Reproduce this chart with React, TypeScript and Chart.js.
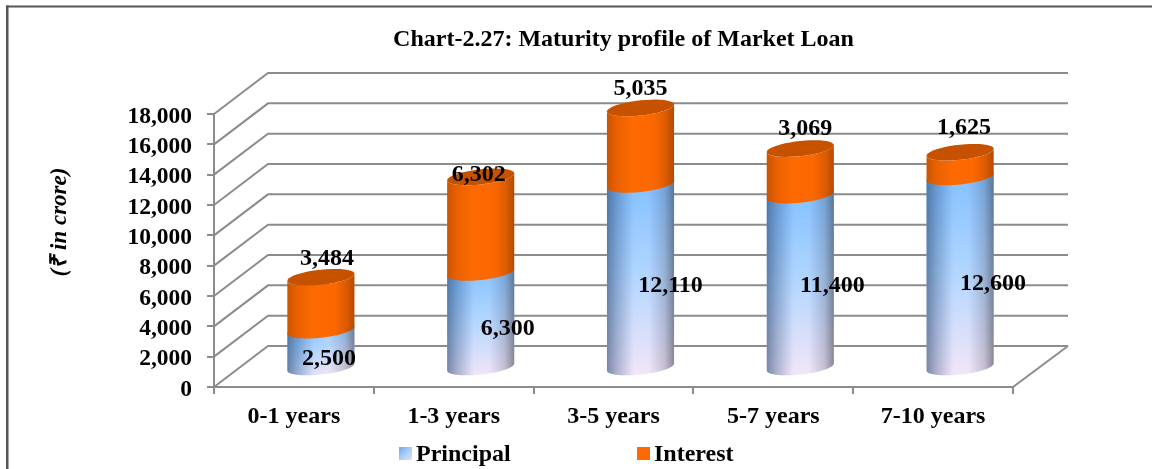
import React, { useEffect, useRef } from "react";
import { Chart, registerables } from "chart.js";

Chart.register(...registerables);

const categories = ["0-1 years", "1-3 years", "3-5 years", "5-7 years", "7-10 years"];
const principal = [2500, 6300, 12110, 11400, 12600];
const interest = [3484, 6302, 5035, 3069, 1625];
const seriesNames = ["Principal", "Interest"];
const yTicksMax = 18000;
const yStep = 2000;
const chartTitle = "Chart-2.27: Maturity profile of Market Loan";
const yTitle = "(₹ in crore)";

// layout only: hand-placed label nudges from the mark they belong to
const principalNudge = [[8, 10], [27, 9], [30, 10], [32, 5], [33, 12]];
const interestNudge = [[6, -18], [-2, -2], [0, -19], [5, -20], [4, -24]];

const SERIF = "'Liberation Serif', 'Times New Roman', serif";
const GRID = "#8c8c8c";
const DEPTH_X = 54;
const DEPTH_Y = 41;
const SHEAR = 3.5;
const RY = 7.6;

function ellipsePoint(cx: number, cy: number, rx: number, t: number) {
  return [cx + rx * Math.cos(t), cy + RY * Math.sin(t) - SHEAR * Math.cos(t)];
}

function arcTo(ctx: any, cx: number, cy: number, rx: number, from: number, to: number, start: boolean) {
  for (let i = 0; i <= 40; i++) {
    const [px, py] = ellipsePoint(cx, cy, rx, from + ((to - from) * i) / 40);
    if (start && i === 0) ctx.moveTo(px, py);
    else ctx.lineTo(px, py);
  }
}

function sidePath(ctx: any, cx: number, yTop: number, yBottom: number, rx: number) {
  ctx.beginPath();
  arcTo(ctx, cx, yBottom, rx, 0, Math.PI, true);
  arcTo(ctx, cx, yTop, rx, Math.PI, 2 * Math.PI, false);
  ctx.closePath();
}

function frontPath(ctx: any, cx: number, yTop: number, yBottom: number, rx: number) {
  ctx.beginPath();
  arcTo(ctx, cx, yBottom, rx, 0, Math.PI, true);
  arcTo(ctx, cx, yTop, rx, Math.PI, 0, false);
  ctx.closePath();
}

function drawPrincipal(ctx: any, cx: number, yTop: number, yBottom: number, rx: number) {
  sidePath(ctx, cx, yTop, yBottom, rx);
  ctx.save();
  ctx.clip();
  const g = ctx.createLinearGradient(cx - 12, yTop - 8, cx + 12, yBottom + 8);
  g.addColorStop(0, "#7fbfff");
  g.addColorStop(0.5, "#b2d6ff");
  g.addColorStop(1, "#f3e6f8");
  ctx.fillStyle = g;
  ctx.fillRect(cx - rx - 1, yTop - 12, rx * 2 + 2, yBottom - yTop + 24);
  const s = ctx.createLinearGradient(cx - rx, 0, cx + rx, 0);
  s.addColorStop(0, "rgba(30,60,100,0.55)");
  s.addColorStop(0.14, "rgba(30,60,110,0.32)");
  s.addColorStop(0.4, "rgba(40,70,120,0)");
  s.addColorStop(0.62, "rgba(60,60,90,0)");
  s.addColorStop(0.86, "rgba(50,50,70,0.22)");
  s.addColorStop(1, "rgba(40,40,50,0.5)");
  ctx.fillStyle = s;
  ctx.fillRect(cx - rx - 1, yTop - 12, rx * 2 + 2, yBottom - yTop + 24);
  ctx.restore();
}

function drawInterest(ctx: any, cx: number, yTop: number, yBottom: number, rx: number) {
  frontPath(ctx, cx, yTop, yBottom, rx);
  const g = ctx.createLinearGradient(cx - rx, 0, cx + rx, 0);
  g.addColorStop(0, "#c95400");
  g.addColorStop(0.15, "#ea6100");
  g.addColorStop(0.4, "#ff6a00");
  g.addColorStop(0.7, "#fb6800");
  g.addColorStop(0.88, "#db5b00");
  g.addColorStop(1, "#b34a00");
  ctx.fillStyle = g;
  ctx.fill();
  ctx.beginPath();
  arcTo(ctx, cx, yTop, rx, 0, 2 * Math.PI, true);
  ctx.closePath();
  ctx.fillStyle = "#c65200";
  ctx.fill();
}

function legendMark(ctx: any, x: number, y: number, kind: number) {
  const g = ctx.createLinearGradient(x, y, x + 13, y + 13);
  if (kind === 0) {
    g.addColorStop(0, "#6fa8e8");
    g.addColorStop(0.5, "#a9cdf8");
    g.addColorStop(1, "#e8def0");
  } else {
    g.addColorStop(0, "#ff6a00");
    g.addColorStop(1, "#ff6a00");
  }
  ctx.fillStyle = g;
  ctx.fillRect(x, y, 13, 13);
}

const cylinderPlugin = {
  id: "cylinders",
  afterLayout(chart: any) {
    if (chart.titleBlock) {
      chart.titleBlock.left = 47.5;
      chart.titleBlock.right = 1152 + 47.5;
    }
  },
  beforeDraw(chart: any) {
    const { ctx } = chart;
    ctx.save();
    ctx.fillStyle = "#555555";
    ctx.fillRect(6, 5.5, 1146, 2);
    ctx.fillRect(6, 5.5, 2.5, 464);
    ctx.restore();
  },
  beforeDatasetsDraw(chart: any) {
    const { ctx, scales, chartArea } = chart;
    const y = scales.y;
    ctx.save();
    ctx.strokeStyle = GRID;
    ctx.lineWidth = 2;
    ctx.lineCap = "butt";
    ctx.lineJoin = "miter";
    for (let v = 0; v <= yTicksMax; v += yStep) {
      const py = y.getPixelForValue(v);
      ctx.beginPath();
      ctx.moveTo(chartArea.left, py);
      ctx.lineTo(chartArea.left + DEPTH_X, py - DEPTH_Y);
      ctx.lineTo(chartArea.right + DEPTH_X + 1, py - DEPTH_Y);
      ctx.stroke();
    }
    ctx.beginPath();
    ctx.moveTo(chartArea.right, chartArea.bottom);
    ctx.lineTo(chartArea.right + DEPTH_X + 1, chartArea.bottom - DEPTH_Y);
    ctx.stroke();
    ctx.restore();
  },
  beforeDatasetDraw() {
    return false;
  },
  afterDatasetsDraw(chart: any) {
    const { ctx } = chart;
    const p = chart.getDatasetMeta(0).data;
    const q = chart.getDatasetMeta(1).data;
    const dx = DEPTH_X / 2;
    const dy = DEPTH_Y / 2 - 1.5;
    ctx.save();
    for (let i = 0; i < p.length; i++) {
      const cx = p[i].x + dx;
      const rx = p[i].width / 2;
      drawPrincipal(ctx, cx, p[i].y - dy, p[i].base - dy, rx);
      drawInterest(ctx, cx, q[i].y - dy, q[i].base - dy, rx);
    }
    ctx.fillStyle = "#000";
    ctx.font = `bold 24px ${SERIF}`;
    ctx.textAlign = "center";
    ctx.textBaseline = "middle";
    for (let i = 0; i < p.length; i++) {
      const cx = p[i].x + dx;
      ctx.fillText(
        principal[i].toLocaleString("en-US"),
        cx + principalNudge[i][0],
        (p[i].y + p[i].base) / 2 - dy + principalNudge[i][1]
      );
      ctx.fillText(
        interest[i].toLocaleString("en-US"),
        cx + interestNudge[i][0],
        q[i].y - dy + interestNudge[i][1]
      );
    }
    // axis title
    ctx.save();
    ctx.translate(60, 222);
    ctx.rotate(-Math.PI / 2);
    ctx.font = `italic bold 23px ${SERIF}`;
    ctx.fillText(yTitle, 0, 0);
    ctx.restore();
    // legend
    ctx.textAlign = "left";
    ctx.font = `bold 24px ${SERIF}`;
    const slots = [399, 637];
    const y = 447;
    seriesNames.forEach((name, i) => {
      legendMark(ctx, slots[i], y, i);
      ctx.fillStyle = "#000";
      ctx.fillText(name, slots[i] + 17, y + 8);
    });
    ctx.restore();
  },
};

export default function App() {
  const ref = useRef<HTMLCanvasElement>(null);
  useEffect(() => {
    const chart = new Chart(ref.current as HTMLCanvasElement, {
      type: "bar",
      data: {
        labels: categories,
        datasets: [
          { label: seriesNames[0], data: principal, backgroundColor: "#8cc4ff", barPercentage: 0.42, categoryPercentage: 1 },
          { label: seriesNames[1], data: interest, backgroundColor: "#ff6a00", barPercentage: 0.42, categoryPercentage: 1 },
        ],
      },
      options: {
        responsive: false,
        animation: false,
        layout: { padding: { left: 0, right: 139, top: 0, bottom: 0 } },
        plugins: {
          legend: { display: false },
          tooltip: { enabled: false },
          title: {
            display: true,
            text: chartTitle,
            color: "#000",
            font: { family: SERIF, size: 24, weight: "bold", lineHeight: 1.2 },
            padding: { top: 25, bottom: 60.2 },
          },
        },
        scales: {
          x: {
            stacked: true,
            afterFit: (s: any) => { s.height = 82; },
            grid: { color: GRID, lineWidth: 2, drawOnChartArea: false, tickLength: 7 },
            border: { color: GRID, width: 2 },
            ticks: { color: "#000", padding: 8, maxRotation: 0, font: { family: SERIF, size: 24, weight: "bold" } },
          },
          y: {
            stacked: true,
            min: 0,
            max: yTicksMax,
            afterFit: (s: any) => { s.width = 214; },
            grid: { color: GRID, lineWidth: 2, drawOnChartArea: false, tickLength: 7 },
            border: { color: GRID, width: 2 },
            ticks: {
              stepSize: yStep,
              autoSkip: false,
              color: "#000",
              padding: 15,
              labelOffset: 2.5,
              font: { family: SERIF, size: 23.5, weight: "bold" },
              callback: (v: any) => Number(v).toLocaleString("en-US"),
            },
          },
        },
      },
      plugins: [cylinderPlugin],
    } as any);
    return () => chart.destroy();
  }, []);
  return (
    <canvas
      ref={ref}
      width={1152}
      height={469}
      style={{ position: "fixed", left: 0, top: 0, width: 1152, height: 469, background: "#fff", filter: "blur(0.35px)" }}
    />
  );
}
